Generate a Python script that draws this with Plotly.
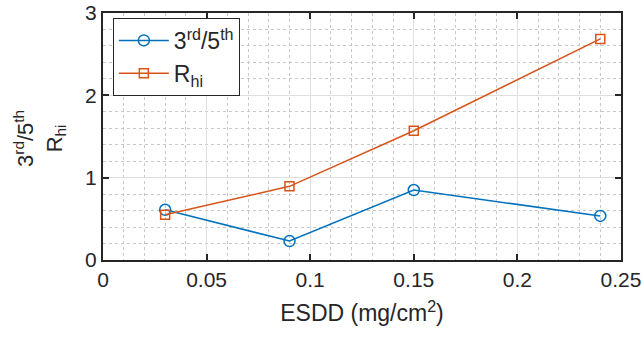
import plotly.graph_objects as go

esdd = [0.03, 0.09, 0.15, 0.24]
ratio_35 = [0.61, 0.23, 0.85, 0.535]
r_hi = [0.55, 0.895, 1.57, 2.685]

blue = "#0072BD"
orange = "#D95319"
font = "Liberation Sans"

fig = go.Figure()
fig.add_trace(go.Scatter(x=esdd, y=ratio_35, mode="lines+markers",
                         name="3<sup>rd</sup>/5<sup>th</sup>",
                         line=dict(color=blue, width=1.5),
                         marker=dict(symbol="circle-open", size=11, color=blue, line=dict(width=1.5))))
fig.add_trace(go.Scatter(x=esdd, y=r_hi, mode="lines+markers",
                         name="R<sub>hi</sub>",
                         line=dict(color=orange, width=1.5),
                         marker=dict(symbol="square-open", size=9, color=orange, line=dict(width=1.5))))

axis_common = dict(showline=True, linecolor="#262626", linewidth=2, mirror="ticks",
                   ticks="inside", ticklen=6, tickwidth=2, tickcolor="#262626",
                   showgrid=True, gridcolor="#DFDFDF", gridwidth=1, zeroline=False,
                   automargin=False,
                   tickfont=dict(family=font, size=21, color="#262626"))

fig.update_xaxes(range=[0, 0.25], tickvals=[0, 0.05, 0.1, 0.15, 0.2, 0.25],
                 ticktext=["0", "0.05", "0.1", "0.15", "0.2", "0.25"],
                 minor=dict(dtick=0.01, showgrid=True, gridcolor="#C8C8C8", griddash="dot", gridwidth=1),
                 title=dict(text="ESDD (mg/cm<sup>2</sup>)", font=dict(family=font, size=23, color="#262626")),
                 **axis_common)
fig.update_yaxes(range=[0, 3], dtick=1,
                 minor=dict(dtick=0.2, showgrid=True, gridcolor="#C8C8C8", griddash="dot", gridwidth=1),
                 **axis_common)

fig.add_annotation(text="3<sup>rd</sup>/5<sup>th</sup><br>R<sub>hi</sub>", textangle=-90,
                   xref="paper", yref="paper", x=0, y=0.49, xanchor="center", yanchor="middle",
                   xshift=-63, showarrow=False,
                   font=dict(family=font, size=22, color="#262626"))

fig.update_layout(width=642, height=342, margin=dict(l=103, r=21, t=13, b=82),
                  plot_bgcolor="white", paper_bgcolor="white",
                  font=dict(family=font, size=21, color="#262626"),
                  legend=dict(x=0.019, y=0.98, xanchor="left", yanchor="top",
                              bgcolor="white", bordercolor="#262626", borderwidth=1,
                              font=dict(family=font, size=23, color="#262626"),
                              itemwidth=50, tracegroupgap=2))

fig.write_html("out.html")
